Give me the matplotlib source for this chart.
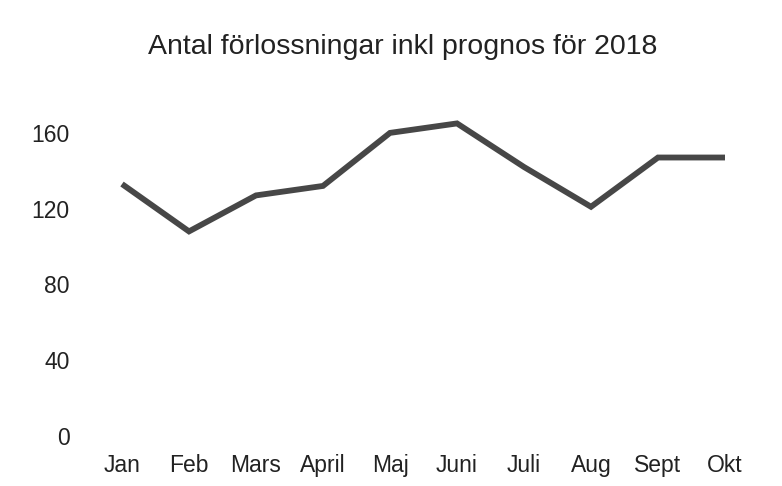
import matplotlib
matplotlib.use("Agg")
import matplotlib.pyplot as plt

months = ["Jan", "Feb", "Mars", "April", "Maj", "Juni", "Juli", "Aug", "Sept", "Okt"]
values = [133, 108, 127, 132, 160, 165, 142, 121, 147, 147]
yticks = [0, 40, 80, 120, 160]
title = "Antal förlossningar inkl prognos för 2018"

plt.rcParams['font.family'] = ['Liberation Sans', 'DejaVu Sans']

fig = plt.figure(figsize=(7.82, 4.86), dpi=100)
ax = fig.add_axes([88.5/782, 1-436/486, (758.5-88.5)/782, (436-95)/486])
x = list(range(len(months)))
ax.plot(x, values, color="#474747", linewidth=4.2, solid_joinstyle="miter", solid_capstyle="butt")
ax.set_xlim(-0.5, len(months)-0.5)
ax.set_ylim(0, 180)
ax.set_yticks(yticks)
ax.set_xticks(x)
ax.set_xticklabels(months)
for s in ax.spines.values():
    s.set_visible(False)
ax.tick_params(axis='both', length=0, labelsize=16.5, colors="#222222")
ax.tick_params(axis='y', pad=13.5)
ax.tick_params(axis='x', pad=13)
fig.text(0.515, 1-47/486, title, ha="center", va="center", fontsize=20.5, color="#222222")
fig.savefig("out.png", dpi=100, facecolor="white")
